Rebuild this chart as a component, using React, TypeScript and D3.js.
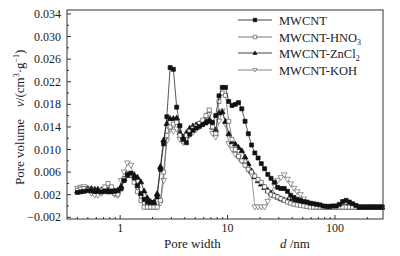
import React from "react";
import * as d3 from "d3";

// Pore width grid (nm)
const poreWidth = [
  0.40, 0.43, 0.46, 0.50, 0.54, 0.58, 0.62, 0.67, 0.72, 0.77, 0.83, 0.89, 0.95,
  1.02, 1.09, 1.17, 1.26, 1.35, 1.45, 1.56, 1.67, 1.79, 1.92, 2.06, 2.21,
  2.37, 2.54, 2.72, 2.92, 3.13, 3.36, 3.60, 3.86,
  4.14, 4.44, 4.76, 5.10, 5.47, 5.87, 6.29, 6.75, 7.24, 7.76, 8.32, 8.92, 9.57,
  10.26, 11.0, 11.8, 12.65, 13.57, 14.55, 15.6, 16.73, 17.94, 19.24, 20.6, 22.1, 23.7,
  25.4, 27.3, 29.3, 31.4, 33.7, 36.1, 38.7, 41.5, 44.5, 47.7, 51.2, 54.9, 58.9, 63.1, 67.7, 72.6, 77.8, 83.5, 89.5,
  96, 103, 110, 118, 127, 136, 146, 157, 168, 180, 193, 207, 222, 238, 255, 274,
];

const mwcnt = [
  0.0024, 0.0025, 0.0026, 0.0027, 0.0027, 0.0026, 0.0026, 0.0025, 0.0026, 0.0025, 0.0025, 0.0026, 0.0027,
  0.0031, 0.0045, 0.0056, 0.0058, 0.0050, 0.0036, 0.0022, 0.0012, 0.0007, 0.0006, 0.0006, 0.0016,
  0.0065, 0.0110, 0.0158, 0.0245, 0.0242, 0.0175, 0.0142, 0.0118,
  0.0112, 0.0127, 0.0134, 0.0138, 0.0141, 0.0144, 0.0147, 0.0150, 0.0148, 0.0160, 0.0195, 0.0210, 0.0210,
  0.0185, 0.0178, 0.0180, 0.0183, 0.0172, 0.0150, 0.0128, 0.0108, 0.0094, 0.0085, 0.0075, 0.0066, 0.0056,
  0.0049, 0.0042, 0.0033, 0.0031, 0.0031, 0.0026, 0.0019, 0.0015, 0.0012, 0.0010, 0.0008, 0.0007, 0.0005, 0.0004, 0.0003, 0.0002, 0.0000, -0.0001, -0.0001,
  0.0000, 0.0000, 0.0003, 0.0008, 0.0010, 0.0007, 0.0004, 0.0001, -0.0002, -0.0002, -0.0002, -0.0002, -0.0002, -0.0002, -0.0002, -0.0002,
];

const mwcntHNO3 = [
  0.0028, 0.0030, 0.0031, 0.0029, 0.0027, 0.0026, 0.0025, 0.0028, 0.0034, 0.0040, 0.0034, 0.0022, 0.0021,
  0.0030, 0.0048, 0.0058, 0.0055, 0.0042, 0.0025, 0.0010, -0.0002, -0.0002, -0.0002, -0.0002, -0.0002,
  0.0010, 0.0060, 0.0125, 0.0140, 0.0145, 0.0148, 0.0125, 0.0115,
  0.0125, 0.0132, 0.0137, 0.0141, 0.0146, 0.0152, 0.0160, 0.0170, 0.0140, 0.0128, 0.0185, 0.0200, 0.0196,
  0.0150, 0.0118, 0.0100, 0.0088, 0.0080, 0.0072, 0.0065, 0.0060, 0.0053, 0.0047, 0.0042, 0.0034, 0.0026,
  0.0020, 0.0018, 0.0016, 0.0013, 0.0010, 0.0007, 0.0005, 0.0003, 0.0002, 0.0001, 0.0000, -0.0001, -0.0002, -0.0002, -0.0002, -0.0002, -0.0002, -0.0002, -0.0002,
  -0.0002, -0.0002, -0.0002, -0.0002, -0.0002, -0.0002, -0.0002, -0.0002, -0.0002, -0.0002, -0.0002, -0.0002, -0.0002, -0.0002, -0.0002, -0.0002,
];

const mwcntZnCl2 = [
  0.0027, 0.0029, 0.0030, 0.0031, 0.0031, 0.0030, 0.0030, 0.0029, 0.0029, 0.0028, 0.0028, 0.0027, 0.0028,
  0.0035, 0.0048, 0.0054, 0.0057, 0.0056, 0.0051, 0.0043, 0.0027, 0.0015, 0.0008, 0.0007, 0.0022,
  0.0070, 0.0117, 0.0146, 0.0155, 0.0155, 0.0156, 0.0130, 0.0122,
  0.0130, 0.0138, 0.0142, 0.0144, 0.0146, 0.0148, 0.0150, 0.0152, 0.0140, 0.0135, 0.0165, 0.0167, 0.0150,
  0.0128, 0.0114, 0.0110, 0.0104, 0.0098, 0.0087, 0.0075, 0.0062, 0.0052, 0.0045, 0.0039, 0.0033, 0.0028,
  0.0023, 0.0019, 0.0016, 0.0013, 0.0011, 0.0010, 0.0009, 0.0008, 0.0007, 0.0006, 0.0005, 0.0004, 0.0003, 0.0002, 0.0001, 0.0000, -0.0001, -0.0001, -0.0001,
  -0.0001, -0.0001, -0.0001, -0.0001, -0.0001, -0.0001, -0.0001, -0.0001, -0.0002, -0.0002, -0.0002, -0.0002, -0.0002, -0.0002, -0.0002, -0.0002,
];

const mwcntKOH = [
  0.0031, 0.0033, 0.0034, 0.0030, 0.0022, 0.0019, 0.0019, 0.0022, 0.0026, 0.0030, 0.0028, 0.0020, 0.0018,
  0.0045, 0.0060, 0.0076, 0.0072, 0.0048, 0.0030, 0.0016, 0.0004, -0.0002, -0.0002, -0.0002, -0.0002,
  0.0005, 0.0045, 0.0115, 0.0135, 0.0132, 0.0136, 0.0118, 0.0112,
  0.0118, 0.0125, 0.0130, 0.0135, 0.0140, 0.0145, 0.0152, 0.0162, 0.0128, 0.0122, 0.0150, 0.0168, 0.0145,
  0.0110, 0.0100, 0.0091, 0.0085, 0.0079, 0.0073, 0.0064, 0.0055, -0.0002, -0.0002, -0.0002, -0.0002, 0.0008,
  0.0024, 0.0036, 0.0045, 0.0050, 0.0055, 0.0047, 0.0039, 0.0031, 0.0025, 0.0020, 0.0012, 0.0005, 0.0001, -0.0002, -0.0002, -0.0002, -0.0002, -0.0002, -0.0002,
  -0.0002, -0.0002, -0.0002, -0.0002, -0.0002, -0.0002, -0.0002, -0.0002, -0.0002, -0.0002, -0.0002, -0.0002, -0.0002, -0.0002, -0.0002, -0.0002,
];

const yMajorTicks = [-0.002, 0.002, 0.006, 0.010, 0.014, 0.018, 0.022, 0.026, 0.030, 0.034];
const yMinorTicks = [0.000, 0.004, 0.008, 0.012, 0.016, 0.020, 0.024, 0.028, 0.032];
const xMajorTicks = [1, 10, 100];

type MarkerKind = "sq" | "osq" | "tri" | "itri";

const seriesList: { name: string; sub?: string; values: number[]; marker: MarkerKind; stroke: string }[] = [
  { name: "MWCNT-KOH", values: mwcntKOH, marker: "itri", stroke: "#6a6a6a" },
  { name: "MWCNT-ZnCl", sub: "2", values: mwcntZnCl2, marker: "tri", stroke: "#111" },
  { name: "MWCNT-HNO", sub: "3", values: mwcntHNO3, marker: "osq", stroke: "#555" },
  { name: "MWCNT", values: mwcnt, marker: "sq", stroke: "#111" },
];
const legendOrder = ["MWCNT", "MWCNT-HNO", "MWCNT-ZnCl", "MWCNT-KOH"];

function markerPath(kind: MarkerKind, cx: number, cy: number, s: number) {
  const h = s / 2;
  if (kind === "sq" || kind === "osq") {
    return `M${cx - h},${cy - h}h${s}v${s}h${-s}Z`;
  }
  if (kind === "tri") {
    return `M${cx},${cy - h * 1.15}L${cx + h * 1.15},${cy + h * 0.85}L${cx - h * 1.15},${cy + h * 0.85}Z`;
  }
  return `M${cx},${cy + h * 1.15}L${cx + h * 1.15},${cy - h * 0.85}L${cx - h * 1.15},${cy - h * 0.85}Z`;
}

function Marker({ kind, cx, cy, s, stroke }: { kind: MarkerKind; cx: number; cy: number; s: number; stroke: string }) {
  const filled = kind === "sq" || kind === "tri";
  return (
    <path
      d={markerPath(kind, cx, cy, s)}
      fill={filled ? "#111" : "#fff"}
      stroke={filled ? "#111" : stroke}
      strokeWidth={0.7}
    />
  );
}

const FONT = "'Liberation Serif', 'Times New Roman', serif";

export default function App() {
  const left = 67, right = 383, top = 10, bottom = 219;
  const x = d3.scaleLog().domain([0.32, 280]).range([left, right]);
  const y = d3.scaleLinear().domain([-0.0023, 0.0347]).range([bottom, top]);
  const fmt = d3.format(".3f");
  const xMinor = x.ticks().filter((t) => !xMajorTicks.some((m) => Math.abs(m - t) < 1e-9));

  const line = d3
    .line<number>()
    .x((_, i) => x(poreWidth[i]))
    .y((d) => y(d));

  const legendY = [20, 37, 53, 70];

  return (
    <svg width={400} height={256} style={{ position: "absolute", left: 0, top: 0, background: "#fff" }} fontFamily={FONT}>
      <rect x={0} y={0} width={400} height={256} fill="#fff" />
      {/* series */}
      {seriesList.map((s) => (
        <g key={s.name}>
          <path d={line(s.values) || ""} fill="none" stroke={s.stroke} strokeWidth={0.7} />
          {s.values.map((v, i) => (
            <Marker key={i} kind={s.marker} cx={x(poreWidth[i])} cy={y(v)} s={s.marker === "sq" || s.marker === "osq" ? 4 : 5} stroke={s.stroke} />
          ))}
        </g>
      ))}
      {/* frame */}
      <rect x={left} y={top} width={right - left} height={bottom - top} fill="none" stroke="#333" strokeWidth={1} />
      {/* y ticks */}
      {yMajorTicks.map((t) => (
        <g key={"ym" + t}>
          <line x1={left} x2={left + 4} y1={y(t)} y2={y(t)} stroke="#333" strokeWidth={1} />
          <text x={61} y={y(t) + 4} textAnchor="end" fontSize={12} fill="#222">
            {fmt(t)}
          </text>
        </g>
      ))}
      {yMinorTicks.map((t) => (
        <line key={"yn" + t} x1={left} x2={left + 2} y1={y(t)} y2={y(t)} stroke="#333" strokeWidth={1} />
      ))}
      {/* x ticks */}
      {xMajorTicks.map((t) => (
        <g key={"xm" + t}>
          <line x1={x(t)} x2={x(t)} y1={bottom} y2={bottom - 4} stroke="#333" strokeWidth={1} />
          <text x={x(t)} y={232} textAnchor="middle" fontSize={12} fill="#222">
            {t}
          </text>
        </g>
      ))}
      {xMinor.map((t) => (
        <line key={"xn" + t} x1={x(t)} x2={x(t)} y1={bottom} y2={bottom - 2} stroke="#333" strokeWidth={1} />
      ))}
      {/* x title */}
      <text x={164} y={248} fontSize={13} fill="#222">
        Pore width
      </text>
      <text x={280} y={248} fontSize={13} fill="#222">
        <tspan fontStyle="italic">d</tspan> /nm
      </text>
      {/* y title */}
      <text transform="translate(24,185) rotate(-90)" fontSize={13} fill="#222">
        Pore volume
        <tspan dx={12} fontStyle="italic">v</tspan>
        <tspan>/(cm</tspan>
        <tspan fontSize={8} dy={-5}>3</tspan>
        <tspan dy={5}>·g</tspan>
        <tspan fontSize={8} dy={-5}>−1</tspan>
        <tspan dy={5}>)</tspan>
      </text>
      {/* legend */}
      {legendOrder.map((n, i) => {
        const s = seriesList.find((d) => d.name === n)!;
        const ly = legendY[i];
        return (
          <g key={"lg" + n}>
            <line x1={238} x2={272} y1={ly} y2={ly} stroke={s.stroke} strokeWidth={0.8} />
            <Marker kind={s.marker} cx={255} cy={ly} s={3.5} stroke={s.stroke} />
            <text x={279} y={ly + 4.5} fontSize={12.5} fill="#222">
              {s.name}
              {s.sub && (
                <tspan fontSize={8} dy={3}>
                  {s.sub}
                </tspan>
              )}
            </text>
          </g>
        );
      })}
    </svg>
  );
}
